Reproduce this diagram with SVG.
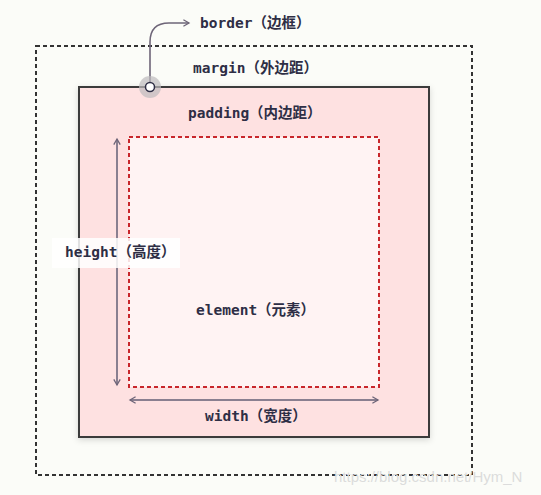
<svg xmlns="http://www.w3.org/2000/svg" width="541" height="495" viewBox="0 0 541 495">
<style>
.lbl{font-family:"DejaVu Sans Mono","Noto Sans CJK SC",monospace;font-size:14.5px;font-weight:bold;fill:#2e2e45}
.dim{stroke:#8a7f90;stroke-width:2;fill:none}
</style>
<defs>
<marker id="ah" viewBox="0 0 10 10" refX="8" refY="5" markerWidth="8" markerHeight="8" markerUnits="userSpaceOnUse" orient="auto-start-reverse">
<path d="M1,1 L8,5 L1,9" fill="none" stroke="#6e6578" stroke-width="1.6"/>
</marker>
<filter id="sh" x="-10%" y="-10%" width="120%" height="120%">
<feDropShadow dx="0" dy="2" stdDeviation="3" flood-color="#000" flood-opacity="0.15"/>
</filter>
</defs>
<rect width="541" height="495" fill="#fbfcf8"/>
<g id="margin">
<rect x="36" y="46" width="436" height="429" fill="none" stroke="#333" stroke-width="2" stroke-dasharray="4,3"/>
<text class="lbl" x="193" y="73">margin（外边距）</text>
</g>
<g id="border">
<rect x="79" y="87" width="350" height="350" fill="#fee1e1" stroke="#3a3a3a" stroke-width="2" filter="url(#sh)"/>
</g>
<g id="padding">
<text class="lbl" x="188" y="118">padding（内边距）</text>
</g>
<g id="element">
<rect x="129" y="137" width="250" height="250" fill="#fff3f3" stroke="#c8262b" stroke-width="2" stroke-dasharray="4,3"/>
<text class="lbl" x="196" y="315">element（元素）</text>
</g>
<g id="connectors">
<path d="M150,87 V42 Q150,23 169,23 H189" fill="none" stroke="#6e6578" stroke-width="1.6" marker-end="url(#ah)"/>
<line class="dim" x1="117" y1="139" x2="117" y2="385" marker-start="url(#ah)" marker-end="url(#ah)"/>
<line class="dim" x1="130" y1="400" x2="378" y2="400" marker-start="url(#ah)" marker-end="url(#ah)"/>
</g>
<g id="border-point">
<circle cx="150" cy="87" r="11" fill="#bdbbbd" opacity="0.7"/>
<circle cx="150" cy="87" r="4.5" fill="#fff" stroke="#2e2e45" stroke-width="1.5"/>
</g>
<g id="border-label">
<text class="lbl" x="200" y="28">border（边框）</text>
</g>
<g id="height">
<rect x="52" y="238" width="128" height="30" fill="#fff" opacity="0.85"/>
<text class="lbl" x="65" y="257">height（高度）</text>
</g>
<g id="width">
<text class="lbl" x="205" y="421">width（宽度）</text>
</g>
<text x="334" y="482" font-family="Liberation Sans,Arial,sans-serif" font-size="15" fill="#dcdcdc">https://blog.csdn.net/Hym_N</text>
</svg>
